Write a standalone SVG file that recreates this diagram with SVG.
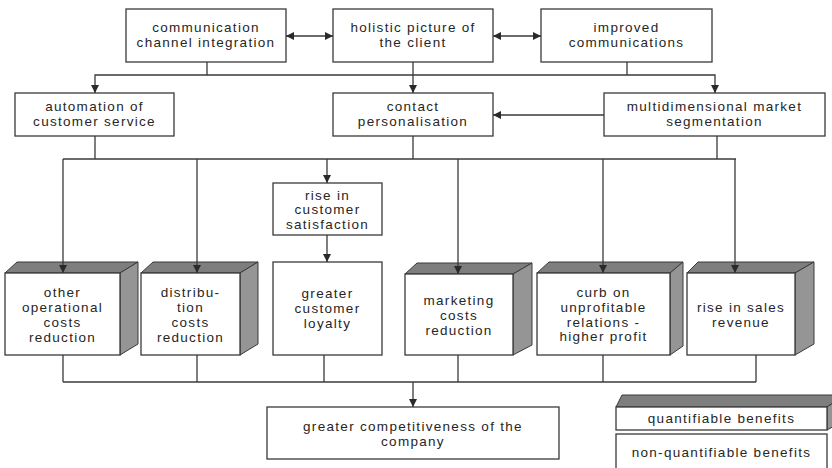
<svg xmlns="http://www.w3.org/2000/svg" width="832" height="468" viewBox="0 0 832 468">
  <style>
    .box { fill: #ffffff; stroke: #3a3a3a; stroke-width: 1.3; }
    .top { fill: #7e7e7e; stroke: #3a3a3a; stroke-width: 1; }
    .side { fill: #959595; stroke: #3a3a3a; stroke-width: 1; }
    .ln { fill: none; stroke: #3a3a3a; stroke-width: 1.3; }
    text { font-family: "Liberation Sans", Arial, sans-serif; font-size: 13.5px; letter-spacing: 1.3px; fill: #262626; text-anchor: middle; }
  </style>
  <defs>
    <marker id="arrow" viewBox="0 0 8 8" refX="8" refY="4" markerWidth="8" markerHeight="8" markerUnits="userSpaceOnUse" orient="auto-start-reverse">
      <path d="M0,0 L8,4 L0,8 z" fill="#2a2a2a"/>
    </marker>
  </defs>

  <rect width="832" height="468" fill="#ffffff"/>

  <!-- top row -->
  <g id="channel-integration">
    <rect class="box" x="126" y="9" width="160" height="53"/>
    <text x="206" y="32">communication</text>
    <text x="206" y="47">channel integration</text>
  </g>
  <g id="holistic-picture">
    <rect class="box" x="333" y="9" width="160" height="53"/>
    <text x="413" y="32">holistic picture of</text>
    <text x="413" y="47">the client</text>
  </g>
  <g id="improved-communications">
    <rect class="box" x="541" y="9" width="171" height="53"/>
    <text x="626.5" y="32">improved</text>
    <text x="626.5" y="47">communications</text>
  </g>

  <!-- second row -->
  <g id="automation">
    <rect class="box" x="15" y="93" width="159" height="43"/>
    <text x="94.5" y="111">automation of</text>
    <text x="94.5" y="126">customer service</text>
  </g>
  <g id="contact-personalisation">
    <rect class="box" x="333" y="93" width="160" height="43"/>
    <text x="413" y="111">contact</text>
    <text x="413" y="126">personalisation</text>
  </g>
  <g id="market-segmentation">
    <rect class="box" x="604" y="93" width="221" height="43"/>
    <text x="714.5" y="111">multidimensional market</text>
    <text x="714.5" y="126">segmentation</text>
  </g>

  <!-- intermediate node -->
  <g id="customer-satisfaction">
    <rect class="box" x="273" y="183" width="109" height="52"/>
    <text x="327.5" y="200">rise in</text>
    <text x="327.5" y="214">customer</text>
    <text x="327.5" y="229">satisfaction</text>
  </g>

  <!-- benefit boxes -->
  <g id="operational-costs">
    <polygon class="top" points="5,273 17,262 138,262 120,273"/>
    <polygon class="side" points="120,273 138,262 138,344 120,355"/>
    <rect class="box" x="5" y="273" width="115" height="82"/>
    <text x="62.5" y="297">other</text>
    <text x="62.5" y="312">operational</text>
    <text x="62.5" y="327">costs</text>
    <text x="62.5" y="342">reduction</text>
  </g>
  <g id="distribution-costs">
    <polygon class="top" points="141,273 153,262 258,262 240,273"/>
    <polygon class="side" points="240,273 258,262 258,344 240,355"/>
    <rect class="box" x="141" y="273" width="99" height="82"/>
    <text x="190.5" y="297">distribu-</text>
    <text x="190.5" y="312">tion</text>
    <text x="190.5" y="327">costs</text>
    <text x="190.5" y="342">reduction</text>
  </g>
  <g id="customer-loyalty">
    <rect class="box" x="273" y="262" width="109" height="93"/>
    <text x="327.5" y="298">greater</text>
    <text x="327.5" y="313">customer</text>
    <text x="327.5" y="328">loyalty</text>
  </g>
  <g id="marketing-costs">
    <polygon class="top" points="405,274 417,263 532,263 513,274"/>
    <polygon class="side" points="513,274 532,263 532,345 513,355"/>
    <rect class="box" x="405" y="274" width="108" height="81"/>
    <text x="459" y="305">marketing</text>
    <text x="459" y="320">costs</text>
    <text x="459" y="335">reduction</text>
  </g>
  <g id="unprofitable-relations">
    <polygon class="top" points="537,273 549,262 683,262 670,273"/>
    <polygon class="side" points="670,273 683,262 683,346 670,355"/>
    <rect class="box" x="537" y="273" width="133" height="82"/>
    <text x="603.5" y="297">curb on</text>
    <text x="603.5" y="312">unprofitable</text>
    <text x="603.5" y="327">relations -</text>
    <text x="603.5" y="341">higher profit</text>
  </g>
  <g id="sales-revenue">
    <polygon class="top" points="687,273 698,262 814,262 795,273"/>
    <polygon class="side" points="795,273 814,262 814,344 795,355"/>
    <rect class="box" x="687" y="273" width="108" height="82"/>
    <text x="741" y="312">rise in sales</text>
    <text x="741" y="327">revenue</text>
  </g>

  <!-- result -->
  <g id="competitiveness">
    <rect class="box" x="267" y="407" width="292" height="52"/>
    <text x="413" y="431">greater competitiveness of the</text>
    <text x="413" y="446">company</text>
  </g>

  <!-- key -->
  <g id="key-quantifiable">
    <polygon class="top" points="616,407 622,395 845,395 827,407"/>
    <polygon class="side" points="827,407 845,395 845,420 827,430"/>
    <rect class="box" x="616" y="407" width="211" height="23"/>
    <text x="721.5" y="423">quantifiable benefits</text>
  </g>
  <g id="key-non-quantifiable">
    <rect class="box" x="616" y="434" width="211" height="40"/>
    <text x="721.5" y="457">non-quantifiable benefits</text>
  </g>

  <!-- connectors -->
  <g id="connectors">
    <line class="ln" x1="286" y1="36" x2="333" y2="36" marker-start="url(#arrow)" marker-end="url(#arrow)"/>
    <line class="ln" x1="493" y1="36" x2="541" y2="36" marker-start="url(#arrow)" marker-end="url(#arrow)"/>

    <polyline class="ln" points="95,93 95,75 715,75 715,93" marker-start="url(#arrow)" marker-end="url(#arrow)"/>
    <line class="ln" x1="207" y1="62" x2="207" y2="75"/>
    <line class="ln" x1="627" y1="62" x2="627" y2="75"/>
    <line class="ln" x1="413" y1="62" x2="413" y2="93" marker-end="url(#arrow)"/>

    <line class="ln" x1="604" y1="115" x2="493" y2="115" marker-end="url(#arrow)"/>

    <line class="ln" x1="63" y1="159" x2="736" y2="159"/>
    <line class="ln" x1="95" y1="136" x2="95" y2="159"/>
    <line class="ln" x1="413" y1="136" x2="413" y2="159"/>
    <line class="ln" x1="717" y1="136" x2="717" y2="159"/>
    <line class="ln" x1="63" y1="159" x2="63" y2="273" marker-end="url(#arrow)"/>
    <line class="ln" x1="197" y1="159" x2="197" y2="273" marker-end="url(#arrow)"/>
    <line class="ln" x1="327" y1="159" x2="327" y2="183" marker-end="url(#arrow)"/>
    <line class="ln" x1="458" y1="159" x2="458" y2="274" marker-end="url(#arrow)"/>
    <line class="ln" x1="603" y1="159" x2="603" y2="273" marker-end="url(#arrow)"/>
    <line class="ln" x1="735" y1="159" x2="735" y2="273" marker-end="url(#arrow)"/>

    <line class="ln" x1="327" y1="235" x2="327" y2="262" marker-end="url(#arrow)"/>

    <line class="ln" x1="63" y1="382" x2="756" y2="382"/>
    <line class="ln" x1="63" y1="355" x2="63" y2="382"/>
    <line class="ln" x1="197" y1="355" x2="197" y2="382"/>
    <line class="ln" x1="324" y1="355" x2="324" y2="382"/>
    <line class="ln" x1="458" y1="355" x2="458" y2="382"/>
    <line class="ln" x1="603" y1="355" x2="603" y2="382"/>
    <line class="ln" x1="756" y1="355" x2="756" y2="382"/>
    <line class="ln" x1="413" y1="382" x2="413" y2="407" marker-end="url(#arrow)"/>
  </g>
</svg>
